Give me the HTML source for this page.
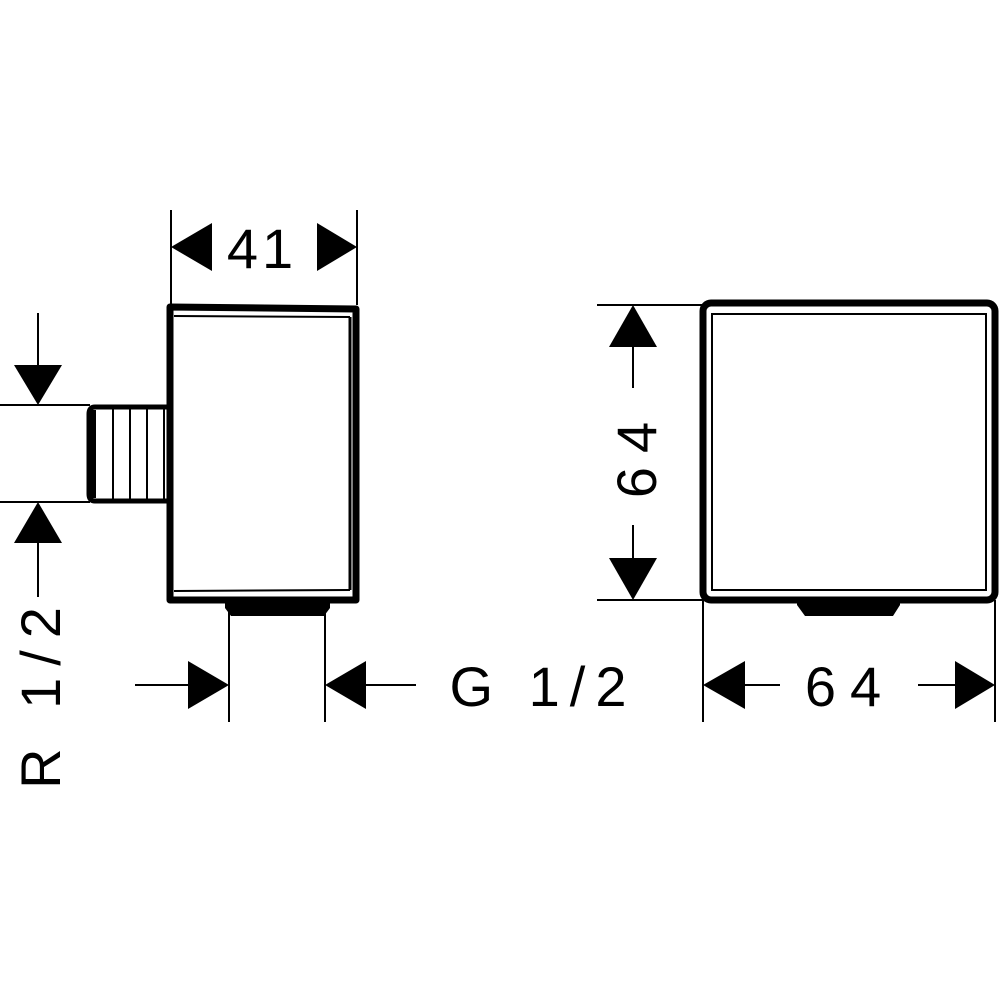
<!DOCTYPE html>
<html><head><meta charset="utf-8"><style>html,body{margin:0;padding:0;background:#fff}svg{display:block}</style></head>
<body>
<svg width="1000" height="1000" viewBox="0 0 1000 1000" xmlns="http://www.w3.org/2000/svg">
<rect width="1000" height="1000" fill="#fff"/>
<g fill="none" stroke="#000">
<!-- left box -->
<path d="M170 307 L356 309 L356 600 L170 600 Z" stroke-width="7" stroke-linejoin="round"/>
<line x1="174" y1="316" x2="350" y2="317" stroke-width="2"/>
<line x1="174" y1="591" x2="350" y2="590" stroke-width="2"/>
<line x1="350" y1="317" x2="350" y2="590" stroke-width="3"/>
<!-- thread -->
<path d="M168 407 L95 407 Q89 407 89 414 L89 494 Q89 501 95 501 L168 501" stroke-width="5"/>
<line x1="93" y1="410" x2="93" y2="498" stroke-width="6"/>
<line x1="113" y1="408" x2="113" y2="500" stroke-width="2"/>
<line x1="130" y1="408" x2="130" y2="500" stroke-width="2"/>
<line x1="147" y1="408" x2="147" y2="500" stroke-width="2"/>
<line x1="164" y1="408" x2="164" y2="500" stroke-width="2"/>
<!-- extension lines -->
<line x1="171" y1="210" x2="171" y2="305" stroke-width="2"/>
<line x1="357" y1="210" x2="357" y2="305" stroke-width="2"/>
<line x1="0" y1="405" x2="90" y2="405" stroke-width="2"/>
<line x1="0" y1="502" x2="90" y2="502" stroke-width="2"/>
<line x1="38" y1="313" x2="38" y2="370" stroke-width="2"/>
<line x1="38" y1="540" x2="38" y2="597" stroke-width="2"/>
<line x1="229" y1="610" x2="229" y2="722" stroke-width="2"/>
<line x1="325" y1="610" x2="325" y2="722" stroke-width="2"/>
<line x1="135" y1="685" x2="190" y2="685" stroke-width="2"/>
<line x1="365" y1="685" x2="416" y2="685" stroke-width="2"/>
<!-- right box -->
<rect x="703" y="303" width="292" height="297" rx="8" stroke-width="7"/>
<path d="M712 314 L986 314 L986 590 L712 590 Z" stroke-width="2"/>
<line x1="597" y1="305" x2="703" y2="305" stroke-width="2"/>
<line x1="597" y1="600" x2="703" y2="600" stroke-width="2"/>
<line x1="633" y1="345" x2="633" y2="388" stroke-width="2"/>
<line x1="633" y1="525" x2="633" y2="560" stroke-width="2"/>
<line x1="703" y1="600" x2="703" y2="722" stroke-width="2"/>
<line x1="995" y1="600" x2="995" y2="722" stroke-width="2"/>
<line x1="745" y1="685" x2="780" y2="685" stroke-width="2"/>
<line x1="918" y1="685" x2="957" y2="685" stroke-width="2"/>
</g>
<g fill="#000">
<path d="M225 602 L330 602 L330 608 L324 616 L231 616 L225 608 Z"/>
<path d="M797 600 L900 600 L900 605 L893 616 L805 616 L797 605 Z"/>
<!-- arrows -->
<path d="M171 247 L212 223 L212 271 Z"/>
<path d="M357 247 L317 223 L317 271 Z"/>
<path d="M38 405 L14 365 L62 365 Z"/>
<path d="M38 502 L14 543 L62 543 Z"/>
<path d="M229 685 L188 661 L188 709 Z"/>
<path d="M325 685 L366 661 L366 709 Z"/>
<path d="M633 305 L609 347 L657 347 Z"/>
<path d="M633 600 L609 558 L657 558 Z"/>
<path d="M703 685 L745 661 L745 709 Z"/>
<path d="M995 685 L955 661 L955 709 Z"/>
</g>
<g font-family="Liberation Sans, sans-serif" font-size="56" fill="#000">
<text x="262" y="268" text-anchor="middle" letter-spacing="4">41</text>
<text x="543" y="706" text-anchor="middle" letter-spacing="10">G 1/2</text>
<text x="850" y="706" text-anchor="middle" letter-spacing="14">64</text>
<text transform="translate(656,453) rotate(-90)" text-anchor="middle" letter-spacing="14">64</text>
<text transform="translate(60,692) rotate(-90)" text-anchor="middle" letter-spacing="12">R 1/2</text>
</g>
</svg>
</body></html>
